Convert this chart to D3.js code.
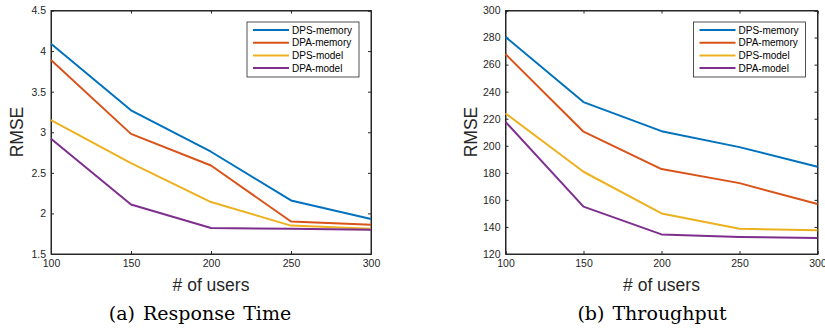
<!DOCTYPE html>
<html>
<head>
<meta charset="utf-8">
<script src="https://cdn.jsdelivr.net/npm/d3@7"></script>
<style>
  body { margin: 0; background: #fff; }
  .tick text { font-family: "Liberation Sans", Arial, sans-serif; font-size: 10.5px; fill: #262626; }
  .axlabel { font-family: "Liberation Sans", Arial, sans-serif; font-size: 17.5px; fill: #262626; }
  .caption { font-family: "DejaVu Serif", serif; font-size: 19px; fill: #000; }
  .legend text { font-family: "Liberation Sans", Arial, sans-serif; font-size: 10px; fill: #000; }
</style>
</head>
<body>
<svg id="chart" width="825" height="329"></svg>
<script>
// shared x values and series names
var users = [100, 150, 200, 250, 300];
var seriesNames = ["DPS-memory", "DPA-memory", "DPS-model", "DPA-model"];
var colors = ["#0072BD", "#D95319", "#EDB120", "#7E2F8E"];

// (a) Response Time
var rtDpsMemory = [4.09, 3.27, 2.76, 2.16, 1.93];
var rtDpaMemory = [3.89, 2.98, 2.59, 1.90, 1.86];
var rtDpsModel  = [3.15, 2.62, 2.14, 1.85, 1.81];
var rtDpaModel  = [2.92, 2.11, 1.82, 1.81, 1.80];
var rtTicks = [1.5, 2, 2.5, 3, 3.5, 4, 4.5];

// (b) Throughput
var tpDpsMemory = [280.5, 232.3, 210.8, 199.0, 184.5];
var tpDpaMemory = [267.8, 210.4, 182.8, 172.4, 156.9];
var tpDpsModel  = [223.9, 180.8, 150.0, 138.7, 137.5];
var tpDpaModel  = [217.7, 155.0, 134.5, 132.6, 131.8];
var tpTicks = [120, 140, 160, 180, 200, 220, 240, 260, 280, 300];

var svg = d3.select("#chart");

function drawPanel(opt){
    var g = svg.append("g");
    var x = d3.scaleLinear().domain([100, 300]).range([opt.left, opt.right]);
    var y = d3.scaleLinear().domain(opt.yDomain).range([254, 10.5]);
    var tickLen = 3;

    // box with inward ticks on all sides
    g.append("rect")
        .attr("x", opt.left).attr("y", y.range()[1])
        .attr("width", opt.right - opt.left)
        .attr("height", y.range()[0] - y.range()[1])
        .attr("fill", "none").attr("stroke", "#262626").attr("stroke-width", 1);

    g.append("g").attr("transform", "translate(0,254)")
        .call(d3.axisBottom(x).tickValues(users).tickSize(-tickLen).tickPadding(6));
    g.append("g").attr("transform", "translate(0," + y.range()[1] + ")")
        .call(d3.axisTop(x).tickValues(users).tickSize(-tickLen).tickFormat(""));
    g.append("g").attr("transform", "translate(" + opt.left + ",0)")
        .call(d3.axisLeft(y).tickValues(opt.yTicks).tickSize(-tickLen).tickPadding(5).tickFormat(d3.format("")));
    g.append("g").attr("transform", "translate(" + opt.right + ",0)")
        .call(d3.axisRight(y).tickValues(opt.yTicks).tickSize(-tickLen).tickFormat(""));
    g.selectAll(".domain").attr("stroke", "#262626");
    g.selectAll(".tick line").attr("stroke", "#262626");

    var line = d3.line().x(function(d, i){ return x(users[i]); }).y(function(d){ return y(d); });
    opt.series.forEach(function(s, i){
        g.append("path").datum(s)
            .attr("d", line)
            .attr("fill", "none")
            .attr("stroke", colors[i])
            .attr("stroke-width", 2)
            .attr("stroke-linejoin", "round");
    });

    // axis labels
    var cx = (opt.left + opt.right) / 2;
    g.append("text").attr("class", "axlabel")
        .attr("x", cx).attr("y", 291)
        .attr("text-anchor", "middle").text("# of users");
    g.append("text").attr("class", "axlabel")
        .attr("transform", "translate(" + opt.yLabelX + ",132) rotate(-90)")
        .attr("text-anchor", "middle").text("RMSE");
    g.append("text").attr("class", "caption")
        .attr("x", opt.captionX).attr("y", 320)
        .attr("text-anchor", "middle")
        .attr("word-spacing", 2)
        .text(opt.caption);

    // legend
    var lg = g.append("g").attr("class", "legend")
        .attr("transform", "translate(" + opt.legendX + ",22)");
    lg.append("rect").attr("width", 112).attr("height", 55)
        .attr("fill", "#fff").attr("stroke", "#262626").attr("stroke-width", 0.8);
    seriesNames.forEach(function(name, i){
        var yy = 8 + i * 12.7;
        lg.append("line").attr("x1", 6).attr("x2", 42).attr("y1", yy).attr("y2", yy)
            .attr("stroke", colors[i]).attr("stroke-width", 2);
        lg.append("text").attr("x", 45).attr("y", yy + 3.6).text(name);
    });
}

drawPanel({
    left: 51, right: 371, yDomain: [1.5, 4.5], yTicks: rtTicks,
    series: [rtDpsMemory, rtDpaMemory, rtDpsModel, rtDpaModel],
    yLabelX: 23, legendX: 247, caption: "(a) Response Time",
    captionX: 200
});
drawPanel({
    left: 505.5, right: 817.5, yDomain: [120, 300], yTicks: tpTicks,
    series: [tpDpsMemory, tpDpaMemory, tpDpsModel, tpDpaModel],
    yLabelX: 477, legendX: 693.5, caption: "(b) Throughput",
    captionX: 652
});
</script>
</body>
</html>
